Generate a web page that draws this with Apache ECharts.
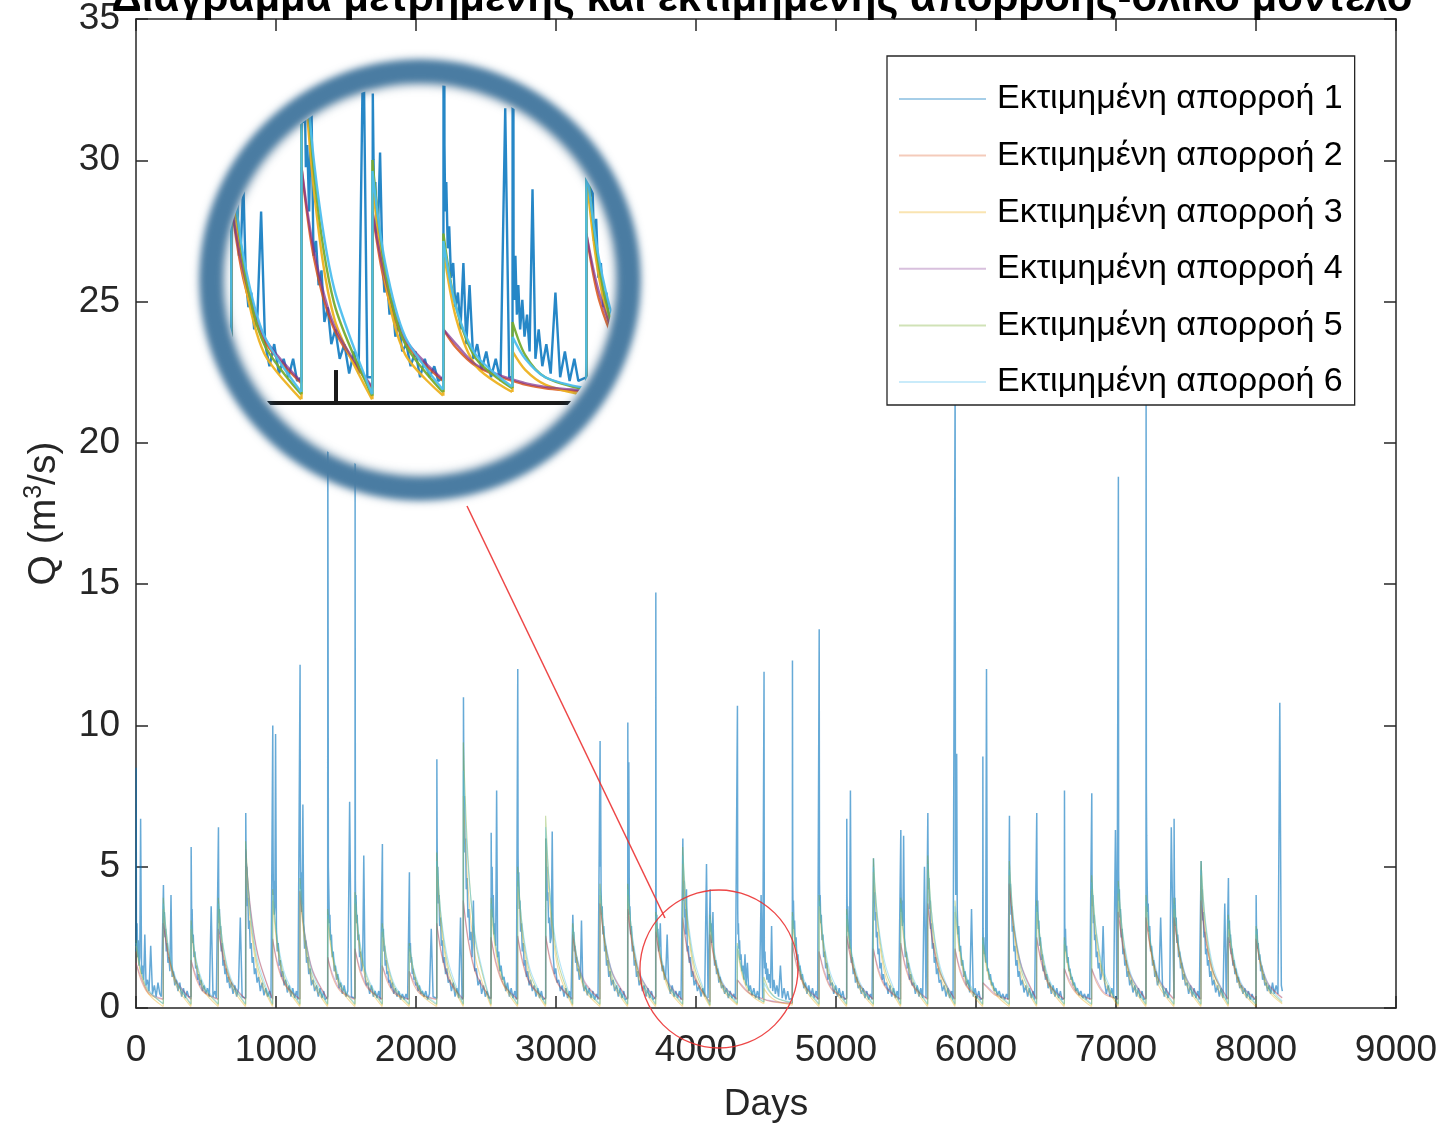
<!DOCTYPE html>
<html>
<head>
<meta charset="utf-8">
<script src="https://cdn.jsdelivr.net/npm/echarts@6/dist/echarts.min.js"></script>
<style>
html,body{margin:0;padding:0;background:#fff;}
#main{position:absolute;left:0;top:0;width:1443px;height:1128px;}
#inset{position:absolute;left:224px;top:84px;width:390px;height:390px;border-radius:50%;overflow:hidden;background:#fff;}
#ring{position:absolute;left:200px;top:60px;width:396px;height:396px;border-radius:50%;border:22px solid #4a7ca2;filter:blur(3px);box-shadow:0 0 4px 2px rgba(40,90,130,0.4), inset 0 0 6px 3px rgba(30,80,120,0.55);pointer-events:none;}
</style>
</head>
<body>
<div id="main"></div>
<div id="inset"></div>
<div id="ring"></div>
<script>
// ---------------- DATA ----------------
const titleText = 'Διάγραμμα μετρημένης και εκτιμημένης απορροής-ολικό μοντέλο';
const seriesNames = ['Εκτιμημένη απορροή 1','Εκτιμημένη απορροή 2','Εκτιμημένη απορροή 3','Εκτιμημένη απορροή 4','Εκτιμημένη απορροή 5','Εκτιμημένη απορροή 6'];
const xTickValues = [0,1000,2000,3000,4000,5000,6000,7000,8000,9000];
const yTickValues = [0,5,10,15,20,25,30,35];

// start day of every runoff event (recession jump)
const eventDays = [0,195,393,588,783,976,1171,1369,1564,1759,1952,2148,2338,2536,2726,2926,3119,3314,3512,3712,3905,4100,4295,4485,4688,4879,5076,5267,5462,5655,5850,6048,6238,6433,6631,6826,7016,7214,7414,7607,7802,8000];
const lastDay = 8188;

// series 1: sampled days after each event start, and values read at them
const sampleOffsets1 = [0,1,3,5,8,12,16,21,27,33,40,47,55,63,72,82,93,105,118,131,144,157,170,181];
const estimate1 = [
[2.0,8.5,2.8,2.2,3.0,1.8,2.4,1.5,1.8,6.7,1.2,1.5,1.0,2.6,0.8,1.0,0.6,2.2,0.5,0.8,0.4,0.9,0.5,0.4],
[0.4,4.35,3.6,2.8,3.4,2.5,2.8,2.0,2.3,1.6,1.8,1.3,4.0,1.1,1.3,0.8,1.0,0.6,0.9,0.4,0.7,0.35,0.6,0.4],
[0.4,5.7,4.3,3.0,3.5,2.3,2.6,1.8,2.0,1.4,1.5,1.0,1.2,0.8,1.0,0.6,0.8,0.5,0.7,0.4,3.6,0.4,0.6,0.35],
[0.35,6.4,3.8,3.0,3.5,2.6,2.9,2.0,2.3,1.5,1.7,1.2,1.4,0.9,1.1,0.7,0.9,0.5,0.8,0.4,0.7,3.2,0.4,0.35],
[0.35,6.9,5.6,4.5,5.0,3.6,3.9,2.8,3.1,2.1,2.3,1.6,1.8,1.2,1.4,0.9,1.1,0.6,0.9,0.45,0.7,0.4,0.6,0.35],
[0.4,10.0,5.8,4.0,4.5,3.3,3.6,9.7,2.8,2.0,2.3,1.5,1.7,1.1,1.3,0.8,1.0,0.55,0.8,0.4,0.7,0.35,0.6,0.3],
[0.35,12.15,5.5,4.2,4.8,3.4,3.8,7.2,2.9,2.1,2.4,1.6,1.8,1.2,1.4,0.8,1.0,0.6,0.8,0.4,0.7,0.35,0.6,0.3],
[0.4,21.0,14.5,5.0,4.2,3.0,3.3,2.4,2.6,1.8,2.0,1.3,1.5,1.0,1.2,0.7,0.9,0.5,0.8,0.4,0.6,7.3,0.4,0.35],
[0.35,19.5,4.5,3.6,4.0,3.0,3.3,2.4,2.6,1.8,2.0,1.3,1.5,5.4,1.1,0.8,0.9,0.5,0.8,0.4,0.6,0.35,0.6,0.3],
[0.35,5.8,3.2,2.5,2.8,2.0,2.2,1.5,1.7,1.2,1.3,0.9,1.0,0.7,0.9,0.5,0.7,0.4,0.6,0.3,0.5,0.3,0.5,0.3],
[0.3,4.8,2.6,2.0,2.3,1.6,1.8,1.2,1.4,1.0,1.1,0.8,0.9,0.6,0.8,0.5,0.6,0.4,0.6,0.3,0.5,2.8,0.4,0.35],
[0.35,8.8,6.0,4.5,5.0,3.7,4.0,2.9,3.2,2.2,2.4,1.6,1.8,1.2,1.4,0.9,1.0,0.6,0.9,0.4,0.7,0.35,3.2,0.3],
[0.4,11.0,9.0,7.0,7.5,5.5,6.0,4.2,4.6,3.2,3.5,2.4,2.7,1.8,3.8,1.3,1.4,0.8,1.0,0.5,0.8,0.4,0.6,0.35],
[0.35,6.2,4.5,3.6,5.0,3.2,4.0,2.6,3.0,2.2,7.7,1.8,2.0,1.3,1.5,1.0,1.1,0.6,0.9,0.4,0.7,0.35,0.6,0.3],
[0.35,12.0,5.5,4.3,4.8,3.5,3.8,2.7,3.0,2.0,2.3,1.5,1.7,1.1,1.3,0.8,1.0,0.6,0.8,0.4,0.7,0.35,0.6,0.3],
[0.35,6.0,5.6,4.6,5.0,3.8,4.1,3.0,3.2,2.3,2.5,6.25,1.8,1.2,1.4,0.9,1.0,0.6,0.8,0.4,0.7,0.35,0.6,0.3],
[0.35,3.3,3.0,2.4,2.7,2.0,2.2,1.6,1.8,1.3,1.4,1.0,1.1,3.1,0.9,0.6,0.8,0.45,0.7,0.35,0.6,0.3,0.5,0.3],
[0.35,9.45,5.0,7.8,4.2,3.3,3.6,2.6,2.9,2.0,2.2,1.5,1.7,1.1,1.3,0.8,1.0,0.6,0.8,0.4,0.7,0.35,0.6,0.3],
[0.35,10.1,4.8,3.8,8.7,3.3,3.6,2.6,2.9,2.0,2.2,1.5,1.7,1.1,1.3,0.8,1.0,0.6,0.8,0.4,0.7,0.35,0.6,0.3],
[0.4,14.7,3.8,3.0,3.3,2.5,2.8,2.0,2.2,3.0,1.7,1.3,1.5,1.0,1.2,2.6,0.8,0.5,0.8,0.4,0.6,0.35,0.6,0.3],
[0.35,6.0,4.6,3.8,4.5,3.2,3.5,2.6,4.2,2.0,2.2,1.6,1.8,1.1,1.3,0.8,1.0,0.6,0.8,0.4,0.7,0.4,5.1,0.35],
[0.35,4.2,3.3,2.7,3.0,2.3,2.5,3.4,2.0,1.5,1.7,1.2,1.4,0.9,1.1,0.7,0.8,0.5,0.7,0.35,0.6,0.35,0.5,0.3],
[0.35,10.7,3.5,2.6,3.0,2.1,2.4,1.7,1.9,1.3,1.5,1.0,1.9,0.8,1.6,0.6,0.8,0.45,0.7,0.35,0.6,0.3,4.0,0.35],
[0.35,11.9,1.8,1.4,2.0,1.2,1.6,1.0,1.4,0.9,1.2,0.7,2.9,0.6,1.0,0.5,0.8,0.4,1.5,0.35,0.7,0.3,0.6,0.3],
[0.35,12.3,4.4,3.4,3.8,2.8,3.1,2.2,2.5,1.7,1.9,1.3,1.5,1.0,1.2,0.7,0.9,0.5,0.8,0.4,0.7,0.35,0.6,0.3],
[0.35,13.4,4.5,3.6,4.0,3.0,3.3,2.4,2.6,1.8,2.0,1.4,1.6,1.0,1.2,0.8,0.9,0.5,0.8,0.4,0.7,0.35,0.6,0.3],
[0.35,6.7,4.0,3.2,3.6,2.7,2.9,2.1,7.7,1.6,1.8,1.2,1.4,0.9,1.1,0.7,0.8,0.5,0.7,0.35,0.6,0.3,0.5,0.3],
[0.35,5.3,4.6,3.7,4.1,3.1,3.4,2.5,2.7,1.9,2.1,1.4,1.6,1.0,1.2,0.8,0.9,0.5,0.8,0.4,0.7,0.35,0.6,0.3],
[0.35,6.3,4.2,3.4,3.8,2.9,3.1,6.1,2.5,1.8,2.0,1.4,1.6,1.0,1.2,0.8,0.9,0.5,0.8,0.4,0.7,0.35,5.0,0.35],
[0.35,6.9,5.2,4.2,4.6,3.5,3.8,2.8,3.0,2.1,2.3,1.6,1.8,1.2,1.4,0.9,1.0,0.6,0.8,0.4,0.7,0.35,0.6,0.3],
[0.35,22.5,5.8,4.0,4.4,9.0,3.5,2.6,2.9,2.0,2.2,1.5,1.7,1.1,1.3,0.8,1.0,0.55,3.5,0.4,0.7,0.35,0.6,0.3],
[0.35,8.9,2.8,2.2,2.5,1.9,2.1,1.6,12.0,1.3,1.4,1.0,1.2,0.8,0.9,0.6,0.7,0.45,0.6,0.35,0.5,0.3,0.5,0.3],
[0.35,6.8,5.0,4.0,4.4,3.3,3.6,2.7,2.9,2.0,2.2,1.5,1.7,1.1,1.3,0.8,1.0,0.55,0.8,0.4,0.7,0.35,0.6,0.3],
[0.35,6.9,4.2,3.4,3.8,2.8,3.1,2.2,2.5,1.7,1.9,1.3,1.5,1.0,1.2,0.7,0.9,0.5,0.8,0.4,0.7,0.35,0.6,0.3],
[0.35,7.7,3.0,2.4,2.8,2.0,2.2,1.6,1.8,1.3,1.4,1.0,1.1,0.8,0.9,0.6,0.7,0.45,0.6,0.35,0.5,0.3,0.5,0.3],
[0.35,7.6,4.5,3.6,4.0,3.0,3.3,2.4,2.6,1.8,2.0,1.4,1.6,1.0,1.2,2.9,0.9,0.5,0.8,0.4,0.7,0.35,6.3,0.3],
[0.35,18.8,4.8,3.8,4.2,3.2,3.5,2.5,2.8,1.9,2.1,1.5,1.7,1.1,1.3,0.8,1.0,0.55,0.8,0.4,0.7,0.35,0.6,0.3],
[0.35,22.0,7.8,6.1,4.6,3.4,3.7,2.7,2.9,2.0,2.2,1.5,1.7,1.1,1.3,0.8,1.0,3.2,0.8,0.4,0.7,0.35,0.6,6.4],
[0.35,6.7,4.6,3.5,3.9,2.9,3.2,2.3,2.6,1.8,2.0,1.4,1.6,1.0,1.2,0.8,0.9,0.5,0.8,0.4,0.7,0.35,0.6,0.3],
[0.35,5.2,4.7,3.8,4.2,3.1,3.4,2.5,2.7,1.9,2.1,1.5,1.7,1.1,1.3,0.8,1.0,0.55,0.8,0.4,0.7,0.35,3.7,0.3],
[0.35,4.6,3.4,2.8,3.1,2.3,2.6,1.9,2.1,1.5,1.7,1.2,1.4,0.9,1.1,0.7,0.8,0.5,0.7,0.35,0.6,0.3,0.5,0.3],
[0.35,4.0,3.0,2.5,2.8,2.1,2.3,1.7,1.9,1.3,1.5,1.0,1.2,0.8,0.9,0.6,0.8,0.5,0.9,0.5,0.8,0.5,10.8,0.8]
];
const lastValue1 = 0.6;

// series 2-6: per event [value at start, at +35 d, at +90 d, just before next event]
const recessionOffsets = [0, 35, 90];
const estimate2 = [
[1.6,1.0,0.5,0.3],[3.0,1.85,0.95,0.3],[1.7,1.05,0.55,0.3],[2.8,1.75,0.9,0.3],[5.6,3.45,1.8,0.3],
[2.45,1.5,0.8,0.3],[4.15,2.55,1.3,0.3],[1.8,1.1,0.6,0.3],[2.1,1.3,0.7,0.3],[1.5,0.95,0.5,0.3],
[1.3,0.8,0.45,0.3],[3.0,1.85,0.95,0.3],[3.8,2.35,1.2,0.3],[2.5,1.55,0.8,0.3],[2.55,1.6,0.82,0.3],
[2.55,1.6,0.82,0.3],[2.6,1.6,0.85,0.3],[3.7,2.3,1.2,0.3],[3.5,2.15,1.1,0.3],[2.7,1.65,0.85,0.27],
[3.2,1.95,1.0,0.2],[2.6,1.6,0.82,0.3],[1.0,0.75,0.5,0.3],[0.3,0.25,0.2,0.15],[2.3,1.4,0.75,0.3],
[2.0,1.25,0.65,0.3],[2.55,1.6,0.82,0.3],[2.1,1.3,0.7,0.3],[2.3,1.4,0.75,0.3],[3.7,2.3,1.2,0.3],
[2.1,1.3,0.7,0.3],[0.9,0.7,0.45,0.3],[4.4,2.7,1.4,0.3],[2.5,1.55,0.8,0.3],[1.4,0.9,0.5,0.3],
[1.4,0.9,0.5,0.3],[3.4,2.1,1.1,0.3],[3.2,2.0,1.0,0.3],[3.2,2.0,1.0,0.3],[3.8,2.35,1.2,0.3],
[2.5,1.55,0.8,0.3],[2.45,1.5,0.8,0.35]
];
const estimate3 = [
[2.2,1.2,0.5,0.05],[3.5,1.95,0.8,0.05],[2.8,1.55,0.62,0.05],[3.5,1.95,0.8,0.05],[5.3,2.95,1.2,0.05],
[3.8,2.1,0.85,0.05],[4.1,2.3,0.92,0.05],[3.15,1.75,0.7,0.05],[3.7,2.05,0.82,0.05],[2.7,1.5,0.6,0.05],
[2.1,1.15,0.46,0.05],[5.0,2.75,1.1,0.05],[7.5,4.2,1.7,0.05],[3.5,1.95,0.8,0.05],[4.5,2.5,1.0,0.05],
[6.0,3.35,1.35,0.05],[2.7,1.5,0.6,0.05],[4.0,2.2,0.88,0.05],[4.0,2.2,0.88,0.05],[3.1,1.7,0.68,0.05],
[5.1,2.85,1.15,0.05],[3.0,1.65,0.66,0.1],[2.1,1.15,0.5,0.15],[0.7,0.45,0.25,0.1],[3.1,1.7,0.68,0.05],
[3.6,2.0,0.8,0.05],[3.15,1.75,0.7,0.05],[4.8,2.65,1.05,0.05],[3.5,1.95,0.8,0.05],[4.9,2.7,1.1,0.05],
[3.4,1.9,0.75,0.05],[2.25,1.25,0.5,0.05],[4.7,2.6,1.05,0.05],[3.4,1.9,0.75,0.05],[2.25,1.25,0.5,0.05],
[4.2,2.35,0.95,0.05],[4.05,2.25,0.9,0.05],[3.6,2.0,0.8,0.05],[3.5,1.95,0.8,0.05],[4.7,2.6,1.05,0.05],
[3.0,1.65,0.66,0.05],[2.6,1.45,0.6,0.15]
];
const estimate4 = [
[1.6,1.1,0.55,0.32],[3.0,1.95,1.0,0.32],[1.7,1.15,0.6,0.32],[2.8,1.85,0.95,0.32],[5.6,3.55,1.85,0.32],
[2.45,1.6,0.85,0.32],[4.15,2.65,1.35,0.32],[1.8,1.2,0.65,0.32],[2.1,1.4,0.75,0.32],[1.5,1.05,0.55,0.32],
[1.3,0.9,0.5,0.32],[3.0,1.95,1.0,0.32],[3.8,2.45,1.25,0.32],[2.5,1.65,0.85,0.32],[2.55,1.7,0.87,0.32],
[2.55,1.7,0.87,0.32],[2.6,1.7,0.9,0.32],[3.7,2.4,1.25,0.32],[3.5,2.25,1.15,0.32],[2.7,1.75,0.9,0.29],
[3.2,2.05,1.05,0.22],[2.6,1.7,0.87,0.32],[1.0,0.8,0.52,0.32],[0.32,0.27,0.22,0.17],[2.3,1.5,0.8,0.32],
[2.0,1.35,0.7,0.32],[2.55,1.7,0.87,0.32],[2.1,1.4,0.75,0.32],[2.3,1.5,0.8,0.32],[3.7,2.4,1.25,0.32],
[2.1,1.4,0.75,0.32],[0.9,0.75,0.5,0.32],[4.4,2.8,1.45,0.32],[2.5,1.65,0.85,0.32],[1.4,1.0,0.55,0.32],
[1.4,1.0,0.55,0.32],[3.4,2.2,1.15,0.32],[3.2,2.1,1.05,0.32],[3.2,2.1,1.05,0.32],[3.8,2.45,1.25,0.32],
[2.5,1.65,0.85,0.32],[2.45,1.6,0.85,0.37]
];
const estimate5 = [
[2.4,1.3,0.6,0.15],[3.9,2.15,0.95,0.12],[3.1,1.7,0.75,0.12],[3.9,2.15,0.95,0.12],[5.9,3.25,1.4,0.12],
[4.2,2.3,1.0,0.12],[4.6,2.55,1.1,0.12],[3.5,1.9,0.85,0.12],[4.1,2.25,1.0,0.12],[3.0,1.65,0.72,0.12],
[2.3,1.25,0.55,0.12],[5.5,3.0,1.3,0.12],[9.4,5.2,2.25,0.12],[3.9,2.15,0.95,0.12],[5.0,2.75,1.2,0.12],
[6.8,3.75,1.6,0.12],[3.0,1.65,0.72,0.12],[4.4,2.4,1.05,0.12],[4.4,2.4,1.05,0.12],[3.4,1.85,0.8,0.12],
[5.7,3.1,1.35,0.1],[3.3,1.8,0.8,0.15],[2.3,1.3,0.6,0.2],[1.1,0.65,0.35,0.18],[3.4,1.85,0.8,0.12],
[4.0,2.2,0.95,0.12],[3.5,1.9,0.85,0.12],[5.3,2.9,1.25,0.12],[3.9,2.15,0.95,0.12],[5.4,3.0,1.3,0.12],
[3.8,2.1,0.9,0.12],[2.5,1.4,0.6,0.12],[5.2,2.85,1.25,0.12],[3.8,2.1,0.9,0.12],[2.5,1.4,0.6,0.12],
[4.7,2.6,1.1,0.12],[4.5,2.5,1.05,0.12],[4.0,2.2,0.95,0.12],[3.9,2.15,0.95,0.12],[5.2,2.85,1.25,0.12],
[3.3,1.8,0.8,0.12],[2.9,1.6,0.7,0.2]
];
const estimate6 = [
[2.3,1.35,0.65,0.15],[3.7,2.2,1.05,0.15],[2.95,1.75,0.85,0.15],[3.7,2.2,1.05,0.15],[5.6,3.35,1.6,0.15],
[4.0,2.4,1.15,0.15],[4.4,2.6,1.25,0.15],[3.3,2.0,0.95,0.15],[3.9,2.35,1.1,0.15],[2.85,1.7,0.8,0.15],
[2.2,1.3,0.62,0.15],[5.2,3.1,1.5,0.15],[8.4,5.0,2.4,0.15],[3.7,2.2,1.05,0.15],[4.75,2.85,1.35,0.15],
[6.4,3.85,1.85,0.15],[2.85,1.7,0.8,0.15],[4.2,2.5,1.2,0.15],[4.2,2.5,1.2,0.15],[3.25,1.95,0.92,0.15],
[5.4,3.25,1.55,0.12],[3.15,1.9,0.9,0.18],[2.2,1.3,0.65,0.22],[0.9,0.6,0.35,0.2],[3.25,1.95,0.92,0.15],
[3.8,2.3,1.1,0.15],[3.3,2.0,0.95,0.15],[5.0,3.0,1.45,0.15],[3.7,2.2,1.05,0.15],[5.1,3.05,1.45,0.15],
[3.6,2.15,1.0,0.15],[2.4,1.45,0.68,0.15],[4.9,2.95,1.4,0.15],[3.6,2.15,1.0,0.15],[2.4,1.45,0.68,0.15],
[4.45,2.65,1.25,0.15],[4.3,2.55,1.2,0.15],[3.8,2.3,1.1,0.15],[3.7,2.2,1.05,0.15],[4.9,2.95,1.4,0.15],
[3.15,1.9,0.9,0.15],[2.75,1.65,0.8,0.25]
];

// magnified window shown in the round inset, and the marked region on the main axes
const insetDays = [3692, 4764];
const insetQ = [-0.963, 4.33];
const insetTick = [4000];
const markCenter = [4164, 1.38];

// ---------------- BUILD ----------------
function series1Data() {
  const out = [];
  eventDays.forEach((d, i) => {
    estimate1[i].forEach((v, j) => out.push([d + sampleOffsets1[j], v]));
  });
  out.push([lastDay, lastValue1]);
  return out;
}
// each event: a vertical jump segment, then a separate smooth recession segment
function recessionData(rows) {
  const out = [];
  eventDays.forEach((d, i) => {
    const next = i + 1 < eventDays.length ? eventDays[i + 1] : lastDay;
    const r = rows[i];
    if (i > 0) out.push([d, rows[i - 1][3]], [d, r[0]], [d, '-']);
    recessionOffsets.forEach((o, j) => out.push([d + o, r[j]]));
    out.push([next - 1, r[3]], [next - 1, '-']);
  });
  return out;
}
const allData = [series1Data(), recessionData(estimate2), recessionData(estimate3),
                 recessionData(estimate4), recessionData(estimate5), recessionData(estimate6)];

const baseRGB = [[0,114,189],[217,83,25],[237,177,32],[126,47,142],[119,172,48],[77,190,238]];
const mainAlpha = [0.6, 0.38, 0.42, 0.32, 0.42, 0.42];
const mainWidth = [1.5, 1.1, 1.1, 1.1, 1.1, 1.1];
const insetWidth = [2.4, 2.4, 2.4, 2.4, 2.4, 2.4];
const legendAlpha = [0.35, 0.3, 0.35, 0.3, 0.35, 0.3];
const insetAlpha = [0.85, 0.85, 0.95, 0.7, 0.95, 0.95];
const rgba = (c, a) => `rgba(${c[0]},${c[1]},${c[2]},${a})`;

function makeSeries(widths, alphas, extra) {
  return allData.map((data, k) => Object.assign({
    type: 'line', name: seriesNames[k], data: data,
    symbol: 'none', silent: true, animation: false, connectNulls: false,
    lineStyle: { width: widths[k], color: rgba(baseRGB[k], alphas[k]) },
    itemStyle: { color: rgba(baseRGB[k], legendAlpha[k]) },
    smooth: k === 0 ? false : 0.3
  }, extra || {}));
}

const FONT = "'Liberation Sans', Arial, Helvetica, sans-serif";
const AX = '#262626';
const plainNum = v => String(v);

const chart = echarts.init(document.getElementById('main'), null, { renderer: 'canvas' });
const option = {
  animation: false,
  backgroundColor: '#fff',
  grid: { left: 136, right: 47, top: 19, bottom: 117 },
  legend: {
    orient: 'vertical', left: 887, top: 56,
    padding: [23, 12, 3, 12],
    icon: 'rect',
    itemWidth: 87, itemHeight: 2, itemGap: 16.6,
    backgroundColor: '#fff', borderColor: AX, borderWidth: 1.3, borderRadius: 0,
    textStyle: { fontSize: 34, color: '#000', fontFamily: FONT, lineHeight: 40, padding: [0, 0, 0, 6] },
    data: seriesNames,
    selectedMode: false
  },
  xAxis: [
    { type: 'value', min: 0, max: 9000, interval: 1000, position: 'bottom',
      axisLine: { show: true, onZero: false, lineStyle: { color: AX, width: 1.5 } },
      axisTick: { show: true, inside: true, length: 12, lineStyle: { color: AX, width: 1.5 } },
      axisLabel: { fontSize: 37, color: AX, margin: 24, fontFamily: FONT, formatter: plainNum },
      splitLine: { show: false },
      name: 'Days', nameLocation: 'middle', nameGap: 78,
      nameTextStyle: { fontSize: 37, color: AX, fontFamily: FONT } },
    { type: 'value', min: 0, max: 9000, interval: 1000, position: 'top',
      axisLine: { show: true, onZero: false, lineStyle: { color: AX, width: 1.5 } },
      axisTick: { show: true, inside: true, length: 12, lineStyle: { color: AX, width: 1.5 } },
      axisLabel: { show: false }, splitLine: { show: false } }
  ],
  yAxis: [
    { type: 'value', min: 0, max: 35, interval: 5, position: 'left',
      axisLine: { show: true, onZero: false, lineStyle: { color: AX, width: 1.5 } },
      axisTick: { show: true, inside: true, length: 12, lineStyle: { color: AX, width: 1.5 } },
      axisLabel: { fontSize: 37, color: AX, margin: 16, fontFamily: FONT, formatter: plainNum },
      splitLine: { show: false },
      name: 'Q (m{sup|3}/s)', nameLocation: 'middle', nameGap: 70, nameRotate: 90,
      nameTextStyle: { fontSize: 39, color: AX, fontFamily: FONT, lineHeight: 44,
        rich: { sup: { fontSize: 25, color: AX, fontFamily: FONT, verticalAlign: 'top', lineHeight: 44 } } } },
    { type: 'value', min: 0, max: 35, interval: 5, position: 'right',
      axisLine: { show: true, onZero: false, lineStyle: { color: AX, width: 1.5 } },
      axisTick: { show: true, inside: true, length: 12, lineStyle: { color: AX, width: 1.5 } },
      axisLabel: { show: false }, splitLine: { show: false } }
  ],
  series: makeSeries(mainWidth, mainAlpha)
};
chart.setOption(option);

// annotation: title (cut at the top edge), red circle around the magnified region + connector
const c = chart.convertToPixel({ xAxisIndex: 0, yAxisIndex: 0 }, markCenter);
chart.setOption({
  graphic: [
    { type: 'text', x: 762, y: -1, z: 200,
      style: { text: titleText, fontSize: 42, fontWeight: 'bold', fontFamily: FONT, fill: '#000',
               align: 'center', verticalAlign: 'middle', textAlign: 'center', textVerticalAlign: 'middle' } },
    { type: 'circle', z: 150, shape: { cx: c[0], cy: c[1], r: 79 },
      style: { fill: 'none', stroke: 'rgba(235,50,50,0.9)', lineWidth: 1.3 } },
    { type: 'line', z: 150, shape: { x1: 467, y1: 506, x2: 665, y2: 918 },
      style: { stroke: 'rgba(235,50,50,0.9)', lineWidth: 1.5 } }
  ]
});

// inset (magnifier)
const inset = echarts.init(document.getElementById('inset'), null, { renderer: 'canvas' });
inset.setOption({
  animation: false,
  backgroundColor: '#fff',
  grid: { left: 0, right: 0, top: 0, bottom: 0 },
  xAxis: { type: 'value', min: insetDays[0], max: insetDays[1], interval: 100000,
    axisLine: { show: true, onZero: true, lineStyle: { color: '#1a1a1a', width: 4 } },
    axisTick: { show: true, inside: true, length: 33, customValues: insetTick, lineStyle: { color: '#1a1a1a', width: 4 } },
    axisLabel: { show: false }, splitLine: { show: false } },
  yAxis: { type: 'value', min: insetQ[0], max: insetQ[1],
    axisLine: { show: false }, axisTick: { show: false }, axisLabel: { show: false }, splitLine: { show: false } },
  series: makeSeries(insetWidth, insetAlpha, { z: 3 })
});
</script>
</body>
</html>
